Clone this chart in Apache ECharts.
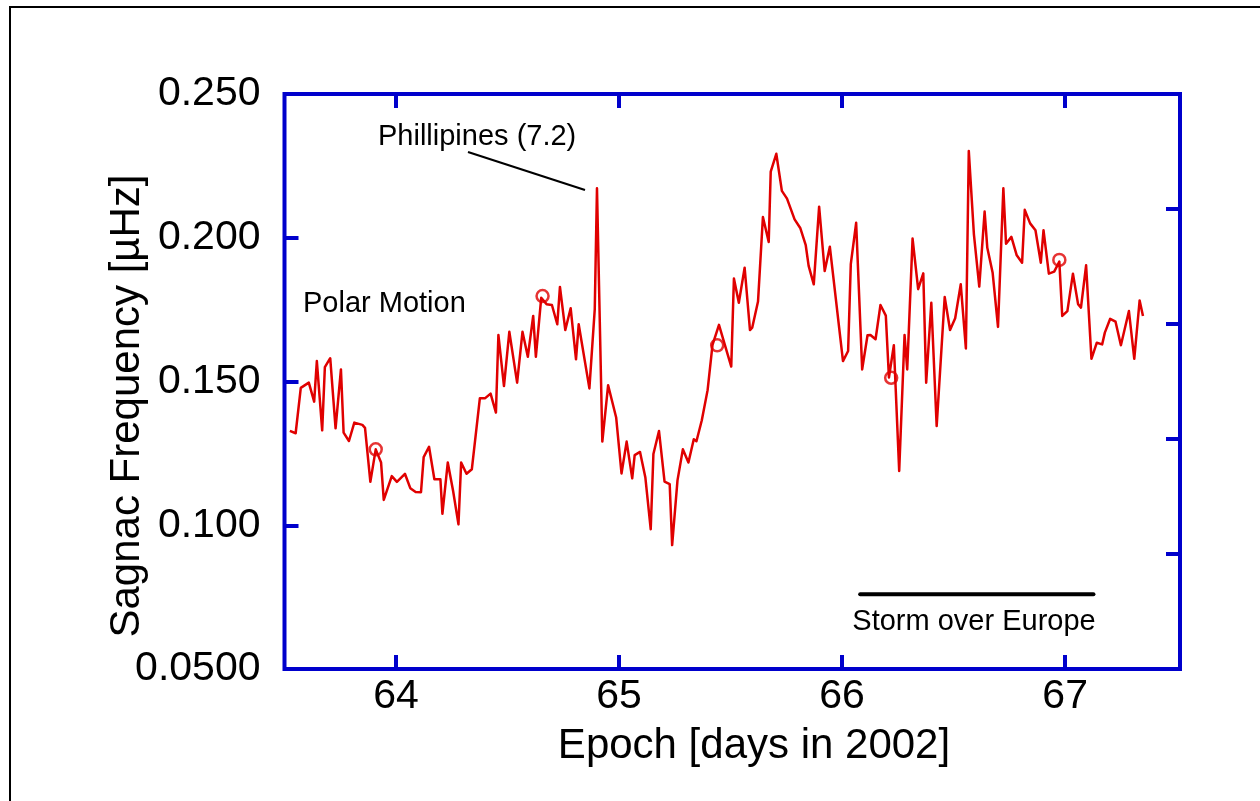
<!DOCTYPE html>
<html><head><meta charset="utf-8">
<script src="https://cdn.jsdelivr.net/npm/echarts@6/dist/echarts.min.js"></script>
<style>html,body{margin:0;padding:0;background:#fff}#c{width:1260px;height:801px}</style>
</head><body><div id="c"></div>
<script>
const epochDays = [
63.524,63.550,63.573,63.609,63.633,63.645,63.669,63.681,63.705,63.729,
63.753,63.765,63.789,63.813,63.849,63.861,63.885,63.909,63.933,63.945,
63.981,64.004,64.040,64.064,64.088,64.112,64.124,64.148,64.172,64.199,
64.208,64.232,64.256,64.280,64.292,64.316,64.340,64.376,64.400,64.424,
64.448,64.459,64.484,64.508,64.543,64.567,64.591,64.615,64.627,64.651,
64.675,64.699,64.723,64.735,64.759,64.783,64.807,64.819,64.867,64.891,
64.901,64.925,64.951,64.987,65.011,65.034,65.059,65.070,65.094,65.118,
65.142,65.154,65.179,65.204,65.227,65.238,65.262,65.286,65.311,65.335,
65.347,65.371,65.397,65.419,65.448,65.503,65.515,65.537,65.563,65.587,
65.597,65.623,65.645,65.671,65.680,65.705,65.730,65.753,65.787,65.813,
65.837,65.850,65.873,65.897,65.922,65.945,66.004,66.027,66.039,66.063,
66.090,66.114,66.127,66.150,66.172,66.196,66.210,66.232,66.256,66.280,
66.292,66.316,66.341,66.364,66.377,66.400,66.424,66.460,66.484,66.507,
66.532,66.555,66.568,66.591,66.615,66.639,66.651,66.675,66.699,66.723,
66.735,66.759,66.783,66.807,66.819,66.843,66.867,66.891,66.903,66.927,
66.951,66.974,66.987,67.010,67.035,67.058,67.071,67.094,67.118,67.142,
67.166,67.178,67.202,67.226,67.250,67.286,67.310,67.334,67.349];
const sagnacFreq = [
0.1328,0.1320,0.1478,0.1496,0.1430,0.1571,0.1330,0.1550,0.1581,0.1337,
0.1542,0.1322,0.1293,0.1357,0.1349,0.1339,0.1151,0.1264,0.1218,0.1088,
0.1171,0.1151,0.1179,0.1129,0.1116,0.1115,0.1237,0.1273,0.1160,0.1160,
0.1040,0.1218,0.1119,0.1003,0.1218,0.1179,0.1195,0.1442,0.1442,0.1458,
0.1392,0.1662,0.1484,0.1673,0.1496,0.1673,0.1586,0.1728,0.1586,0.1791,
0.1769,0.1766,0.1699,0.1829,0.1679,0.1755,0.1577,0.1699,0.1476,0.1751,
0.2172,0.1291,0.1487,0.1375,0.1180,0.1291,0.1163,0.1244,0.1255,0.1166,
0.0986,0.1248,0.1328,0.1152,0.1143,0.0931,0.1156,0.1264,0.1218,0.1299,
0.1292,0.1365,0.1470,0.1627,0.1697,0.1552,0.1858,0.1774,0.1896,0.1679,
0.1687,0.1778,0.2072,0.1985,0.2230,0.2292,0.2163,0.2136,0.2064,0.2033,
0.1974,0.1902,0.1838,0.2108,0.1884,0.1969,0.1571,0.1606,0.1908,0.2052,
0.1542,0.1661,0.1662,0.1647,0.1766,0.1729,0.1514,0.1626,0.1189,0.1662,
0.1542,0.1997,0.1821,0.1876,0.1496,0.1774,0.1345,0.1794,0.1679,0.1720,
0.1838,0.1615,0.2302,0.2012,0.1830,0.2091,0.1965,0.1878,0.1690,0.2172,
0.1979,0.2003,0.1939,0.1913,0.2097,0.2050,0.2026,0.1913,0.2026,0.1875,
0.1882,0.1917,0.1728,0.1745,0.1875,0.1769,0.1757,0.1904,0.1579,0.1635,
0.1629,0.1670,0.1718,0.1708,0.1626,0.1745,0.1579,0.1782,0.1728];
const markedDays = [63.909, 64.657, 65.440, 66.220, 66.974];
const markedFreq = [0.1264, 0.1797, 0.1626, 0.1513, 0.1923];
const stormDays = [66.081, 67.127];
const stormLevel = 0.076;
const xTickValues = [64, 65, 66, 67];
const yTickValues = [0.05, 0.10, 0.15, 0.20, 0.25];
const yTickLabels = ['0.0500', '0.100', '0.150', '0.200', '0.250'];

const FONT = 'Liberation Sans';
const BLUE = '#0000cc';
const RED = '#e00000';

const chart = echarts.init(document.getElementById('c'), null, {renderer: 'canvas'});
const lineData = epochDays.map((d, i) => [d, sagnacFreq[i]]);
const markData = markedDays.map((d, i) => [d, markedFreq[i]]);
const stormData = stormDays.map(d => [d, stormLevel]);

const tickStyle = {show: true, inside: true, length: 14, lineStyle: {color: BLUE, width: 4}};
chart.setOption({
  animation: false,
  backgroundColor: '#fff',
  grid: {left: 284.5, top: 94, right: 80, bottom: 132, show: true, borderColor: BLUE, borderWidth: 4, backgroundColor: 'transparent'},
  xAxis: [
    {type: 'value', position: 'bottom', min: 63.5, max: 67.515,
     axisLine: {show: false}, splitLine: {show: false},
     axisTick: Object.assign({customValues: xTickValues}, tickStyle),
     axisLabel: {customValues: xTickValues, color: '#000', fontFamily: FONT, fontSize: 41, margin: 7,
       formatter: v => String(Math.round(v))}},
    {type: 'value', position: 'top', min: 63.5, max: 67.515,
     axisLine: {show: false}, splitLine: {show: false},
     axisTick: Object.assign({customValues: xTickValues}, tickStyle),
     axisLabel: {show: false}}
  ],
  yAxis: [
    {type: 'value', position: 'left', min: 0.05, max: 0.25, interval: 0.05,
     axisLine: {show: false}, splitLine: {show: false},
     axisTick: Object.assign({customValues: yTickValues}, tickStyle),
     axisLabel: {customValues: yTickValues, color: '#000', fontFamily: FONT, fontSize: 41, margin: 24,
       formatter: v => yTickLabels[Math.round((v - 0.05) / 0.05)]}},
    {type: 'value', position: 'right', min: 0, max: 5, interval: 1,
     axisLine: {show: false}, splitLine: {show: false},
     axisTick: tickStyle, axisLabel: {show: false}}
  ],
  series: [
    {type: 'line', data: lineData, xAxisIndex: 0, yAxisIndex: 0, showSymbol: false, symbol: 'none',
     lineStyle: {color: RED, width: 2.5, join: 'round'}, z: 3},
    {type: 'scatter', data: markData, xAxisIndex: 0, yAxisIndex: 0, symbol: 'circle', symbolSize: 12,
     itemStyle: {color: 'rgba(0,0,0,0)', borderColor: RED, borderWidth: 2.5}, z: 4},
    {type: 'line', data: stormData, xAxisIndex: 0, yAxisIndex: 0, showSymbol: false, symbol: 'none',
     lineStyle: {color: '#000', width: 4, cap: 'round'}, z: 3}
  ],
  graphic: [
    {type: 'rect', shape: {x: 10, y: 7, width: 1400, height: 1000}, style: {fill: 'none', stroke: '#000', lineWidth: 2}, z: 0},
    {type: 'text', x: 754, y: 767, style: {text: 'Epoch [days in 2002]', font: '42px "Liberation Sans"', fill: '#000', textAlign: 'center', textVerticalAlign: 'bottom'}},
    {type: 'text', x: 127, y: 406, rotation: Math.PI / 2, style: {text: 'Sagnac Frequency [µHz]', font: '42px "Liberation Sans"', fill: '#000', textAlign: 'center', textVerticalAlign: 'middle'}},
    {type: 'text', x: 378, y: 137, style: {text: 'Phillipines (7.2)', font: '29px "Liberation Sans"', fill: '#000', textAlign: 'left', textVerticalAlign: 'middle'}},
    {type: 'line', shape: {x1: 468, y1: 152, x2: 585, y2: 190}, style: {stroke: '#000', lineWidth: 2.2}},
    {type: 'text', x: 303, y: 304, style: {text: 'Polar Motion', font: '29px "Liberation Sans"', fill: '#000', textAlign: 'left', textVerticalAlign: 'middle'}},
    {type: 'text', x: 974, y: 622, style: {text: 'Storm over Europe', font: '29px "Liberation Sans"', fill: '#000', textAlign: 'center', textVerticalAlign: 'middle'}}
  ]
});
</script></body></html>
